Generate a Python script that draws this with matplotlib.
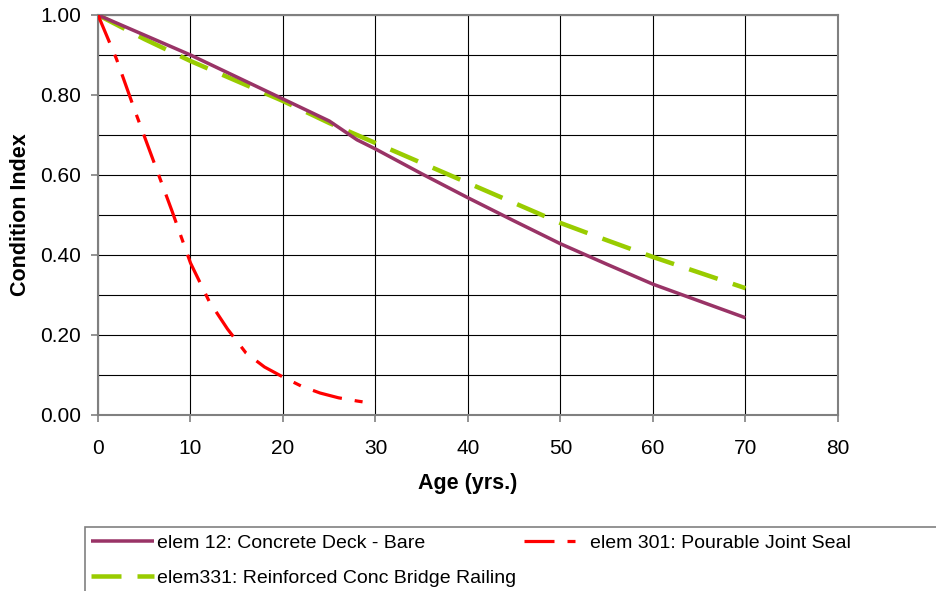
import matplotlib
matplotlib.use("Agg")
import matplotlib.pyplot as plt
from matplotlib.patches import Rectangle
from matplotlib.ticker import MultipleLocator, FormatStrFormatter

plt.rcParams["font.family"] = ["Liberation Sans", "DejaVu Sans"]
plt.rcParams["lines.scale_dashes"] = False

# Condition index vs. age for three bridge elements
age_deck = [0, 5, 10, 15, 20, 25, 28, 30, 35, 40, 45, 50, 55, 60, 65, 70]
ci_deck = [1.00, 0.95, 0.90, 0.845, 0.79, 0.735, 0.688, 0.665, 0.603, 0.543,
           0.485, 0.428, 0.377, 0.327, 0.285, 0.243]

age_seal = [0, 2, 4, 6, 8, 10, 12, 14, 16, 18, 20, 22, 24, 26, 28, 30]
ci_seal = [1.00, 0.89, 0.76, 0.635, 0.51, 0.38, 0.285, 0.215, 0.155, 0.12,
           0.095, 0.072, 0.055, 0.043, 0.035, 0.028]

age_rail = [0, 5, 10, 15, 20, 25, 30, 35, 40, 45, 50, 55, 60, 65, 70]
ci_rail = [1.00, 0.94, 0.885, 0.835, 0.785, 0.73, 0.68, 0.63, 0.58, 0.53,
           0.48, 0.437, 0.395, 0.356, 0.317]

labels = ["elem 12: Concrete Deck - Bare",
          "elem 301: Pourable Joint Seal",
          "elem331: Reinforced Conc Bridge Railing"]

W, H = 937, 591
fig = plt.figure(figsize=(W / 100, H / 100), dpi=100)
ax = fig.add_axes([98 / W, 1 - 415 / H, (838 - 98) / W, (415 - 15) / H])

px = 0.72  # points per pixel at 100 dpi
l_deck, = ax.plot(age_deck, ci_deck, color="#993366", lw=3.5 * px,
                  solid_capstyle="butt", zorder=4)
l_seal, = ax.plot(age_seal, ci_seal, color="#FF0000", lw=3.2 * px,
                  dashes=(30 * px, 13 * px, 8 * px, 13 * px), zorder=5)
l_rail, = ax.plot(age_rail, ci_rail, color="#99CC00", lw=4.5 * px,
                  dashes=(30 * px, 16 * px), zorder=3)

ax.set_xlim(0, 80)
ax.set_ylim(0, 1.0)
ax.xaxis.set_major_locator(MultipleLocator(10))
ax.yaxis.set_major_locator(MultipleLocator(0.2))
ax.set_yticks([0.1, 0.3, 0.5, 0.7, 0.9], minor=True)
ax.yaxis.set_major_formatter(FormatStrFormatter("%.2f"))

ax.grid(True, which="both", color="black", lw=0.8)
ax.set_axisbelow(True)
for s in ax.spines.values():
    s.set_color("#808080")
    s.set_linewidth(1.5)
ax.tick_params(axis="both", which="major", direction="out", length=5,
               width=1.2, color="#808080", labelsize=15)
ax.tick_params(axis="x", which="major", pad=12)
ax.tick_params(axis="y", which="major", pad=7)
ax.tick_params(axis="y", which="minor", length=0)

ax.set_xlabel("Age (yrs.)", fontsize=15.5, fontweight="bold", labelpad=11)
ax.set_ylabel("Condition Index", fontsize=15.5, fontweight="bold", labelpad=7)

# legend box along the bottom edge
fig.patches.append(Rectangle((85 / W, -0.05), 1.0, 1 - 527 / H + 0.05,
                             transform=fig.transFigure, fill=False,
                             edgecolor="#808080", lw=1.2))
fig.legend([l_deck, l_rail, l_seal], [labels[0], labels[2], labels[1]],
           ncol=2, frameon=False, loc="upper left",
           bbox_to_anchor=(91 / W, 1 - 534 / H),
           fontsize=14, handlelength=3.25, handletextpad=0.15,
           columnspacing=0.4, labelspacing=0.9, borderpad=0,
           borderaxespad=0)

fig.savefig("out.png", dpi=100)
